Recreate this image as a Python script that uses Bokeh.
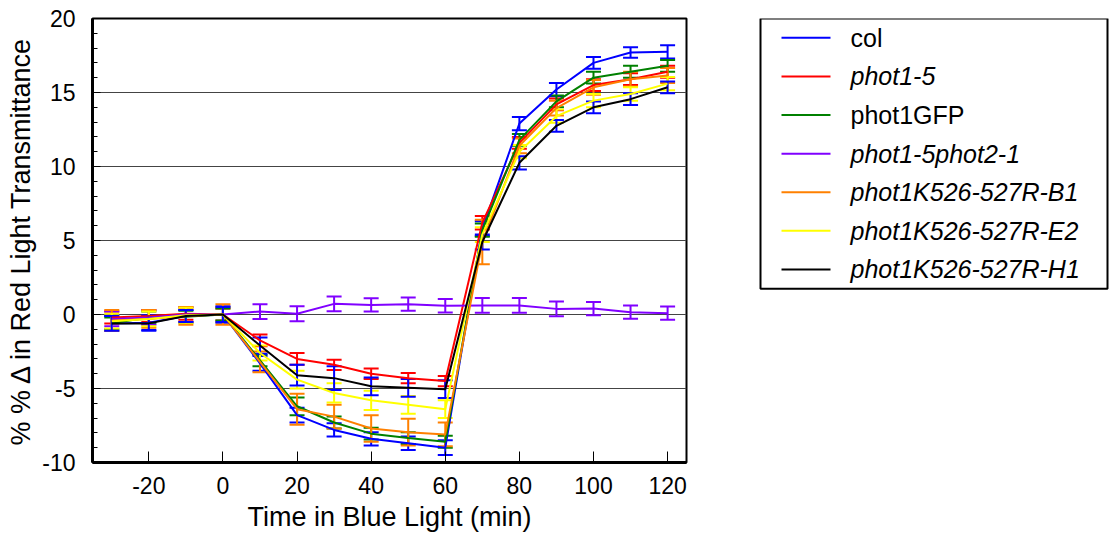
from bokeh.plotting import figure
from bokeh.models import (ColumnDataSource, Whisker, TeeHead, Range1d,
                          SingleIntervalTicker, CustomJSTickFormatter)
from bokeh.layouts import row
from bokeh.core.properties import value, field
from bokeh.embed import file_html
from bokeh.resources import INLINE

FONT = "Liberation Sans"

times = [-30, -20, -10, 0, 10, 20, 30, 40, 50, 60, 70, 80, 90, 100, 110, 120]

labels = ["col", "phot1-5", "phot1GFP", "phot1-5phot2-1",
          "phot1K526-527R-B1", "phot1K526-527R-E2", "phot1K526-527R-H1"]
label_styles = ["normal", "italic", "normal", "italic", "italic", "italic", "italic"]
colors = ["#0000ff", "#ff0000", "#008000", "#8000ff", "#ff8000", "#ffff00", "#000000"]
err_colors = ["#0000ff", "#ff0000", "#008000", "#8000ff", "#ff8000", "#ffff00", "#0000ff"]

col_vals = [-0.6, -0.55, -0.1, 0, -3.3, -6.8, -7.8, -8.4, -8.7, -9.0, 5.8, 12.9, 15.2, 17.0, 17.7, 17.75]
phot15_vals = [-0.2, -0.1, 0.05, 0, -1.75, -3.0, -3.4, -4.0, -4.3, -4.5, 6.2, 11.6, 14.2, 15.5, 15.9, 16.4]
gfp_vals = [-0.6, -0.2, -0.15, 0, -3.1, -6.2, -7.3, -8.05, -8.35, -8.6, 5.7, 11.8, 14.4, 16.0, 16.4, 16.8]
double_vals = [-0.3, -0.2, 0.0, 0, 0.2, 0.05, 0.72, 0.65, 0.7, 0.59, 0.61, 0.61, 0.38, 0.4, 0.16, 0.09]
b1_vals = [-0.4, -0.3, -0.1, 0, -3.2, -6.4, -6.9, -7.7, -7.95, -8.1, 4.9, 11.4, 13.95, 15.35, 15.9, 16.15]
e2_vals = [-0.45, -0.3, -0.05, 0, -2.6, -4.4, -5.3, -5.8, -6.1, -6.4, 5.4, 11.0, 13.4, 14.45, 14.9, 15.6]
h1_vals = [-0.6, -0.6, -0.1, 0, -2.1, -4.1, -4.3, -4.85, -4.95, -5.05, 4.9, 10.25, 12.75, 14.0, 14.55, 15.35]

col_err = [0.5, 0.5, 0.4, 0.55, 0.5, 0.5, 0.45, 0.45, 0.45, 0.5, 0.5, 0.45, 0.45, 0.4, 0.35, 0.45]
phot15_err = [0.4, 0.4, 0.4, 0.4, 0.4, 0.4, 0.35, 0.35, 0.35, 0.35, 0.45, 0.4, 0.4, 0.4, 0.4, 0.4]
gfp_err = [0.4, 0.4, 0.4, 0.4, 0.4, 0.6, 0.4, 0.4, 0.4, 0.4, 0.45, 0.4, 0.4, 0.4, 0.4, 0.4]
double_err = [0.5, 0.5, 0.5, 0.5, 0.5, 0.5, 0.5, 0.45, 0.45, 0.45, 0.5, 0.5, 0.5, 0.45, 0.45, 0.45]
b1_err = [0.7, 0.6, 0.6, 0.7, 0.7, 1.05, 0.8, 0.9, 0.9, 0.8, 1.5, 0.5, 0.5, 0.5, 0.5, 0.5]
e2_err = [0.5, 0.5, 0.5, 0.5, 0.5, 0.6, 0.65, 0.65, 0.6, 0.6, 0.5, 0.45, 0.45, 0.45, 0.45, 0.45]
h1_err = [0.5, 0.5, 0.4, 0.5, 0.55, 0.7, 0.8, 0.6, 0.6, 0.6, 0.5, 0.45, 0.4, 0.4, 0.4, 0.4]

series_vals = [col_vals, phot15_vals, gfp_vals, double_vals, b1_vals, e2_vals, h1_vals]
series_err = [col_err, phot15_err, gfp_err, double_err, b1_err, e2_err, h1_err]

x_ticks_interval = 20
y_ticks_interval = 5

p = figure(width=700, height=539, output_backend="svg", toolbar_location=None,
           x_range=Range1d(-35.2, 125.1), y_range=Range1d(-10, 20),
           min_border_left=92, min_border_right=14, min_border_top=18,
           min_border_bottom=77, background_fill_color="white",
           border_fill_color="white")

p.outline_line_color = "black"
p.outline_line_width = 2
p.xgrid.grid_line_color = None
yt = SingleIntervalTicker(interval=y_ticks_interval, num_minor_ticks=5)
xt = SingleIntervalTicker(interval=x_ticks_interval, num_minor_ticks=0)
p.yaxis.ticker = yt
p.xaxis.ticker = xt
p.ygrid.ticker = yt
p.ygrid.grid_line_color = "#444444"
p.ygrid.grid_line_width = 1.2

fmt = CustomJSTickFormatter(code="return String(tick);")

for ax in (p.xaxis[0], p.yaxis[0]):
    ax.formatter = fmt
    ax.axis_line_width = 3
    ax.axis_line_color = "black"
    ax.major_tick_out = 0
    ax.minor_tick_out = 0
    ax.major_tick_line_color = "black"
    ax.minor_tick_line_color = "black"
    ax.major_label_text_font = FONT
    ax.major_label_text_font_size = "23px"
    ax.major_label_text_color = "black"
    ax.axis_label_text_font = FONT
    ax.axis_label_text_font_size = "27px"
    ax.axis_label_text_font_style = "normal"
    ax.axis_label_text_color = "black"

p.xaxis.major_tick_in = 11
p.xaxis.minor_tick_in = 0
p.xaxis.major_label_standoff = 14
p.xaxis.axis_label = "Time in Blue Light (min)"
p.xaxis.axis_label_standoff = 5

p.yaxis.major_tick_in = 8
p.yaxis.minor_tick_in = 5
p.yaxis.major_label_standoff = 17
p.yaxis.axis_label = "% % \u0394 in Red Light Transmittance"
p.yaxis.axis_label_standoff = 3

for vals, errs, c, ec in zip(series_vals, series_err, colors, err_colors):
    src = ColumnDataSource(dict(
        t=times, v=vals,
        upper=[v + e for v, e in zip(vals, errs)],
        lower=[v - e for v, e in zip(vals, errs)]))
    p.line("t", "v", source=src, line_color=c, line_width=2)
    w = Whisker(source=src, base="t", upper="upper", lower="lower",
                dimension="height", line_color=ec, line_width=2,
                upper_head=TeeHead(size=15, line_color=ec, line_width=2),
                lower_head=TeeHead(size=15, line_color=ec, line_width=2))
    p.add_layout(w)

# legend panel (coordinates = page pixels; frame spans y 18..539)
leg = figure(width=410, height=539, output_backend="svg", toolbar_location=None,
             x_range=Range1d(700, 1110), y_range=Range1d(539, 18),
             x_axis_location=None, y_axis_location=None,
             min_border_left=0, min_border_right=0,
             min_border_top=18, min_border_bottom=0,
             outline_line_color=None, background_fill_color="white",
             border_fill_color="white")
leg.grid.visible = False
leg.quad(left=760, right=1107, top=18, bottom=335, fill_color="white",
         line_color="black", line_width=2)
ys = [40.7 + 45.3 * i for i in range(len(labels))]
lsrc = ColumnDataSource(dict(y=ys, label=labels, style=label_styles, color=colors))
leg.segment(x0=781, x1=830, y0="y", y1="y", source=lsrc, line_color="color", line_width=2)
leg.text(x=850, y="y", text="label", source=lsrc, text_baseline="middle",
         text_font=value(FONT), text_font_size="25px",
         text_font_style=field("style"), text_color="black")

layout = row(p, leg)
open("out.html", "w").write(file_html(layout, INLINE))
